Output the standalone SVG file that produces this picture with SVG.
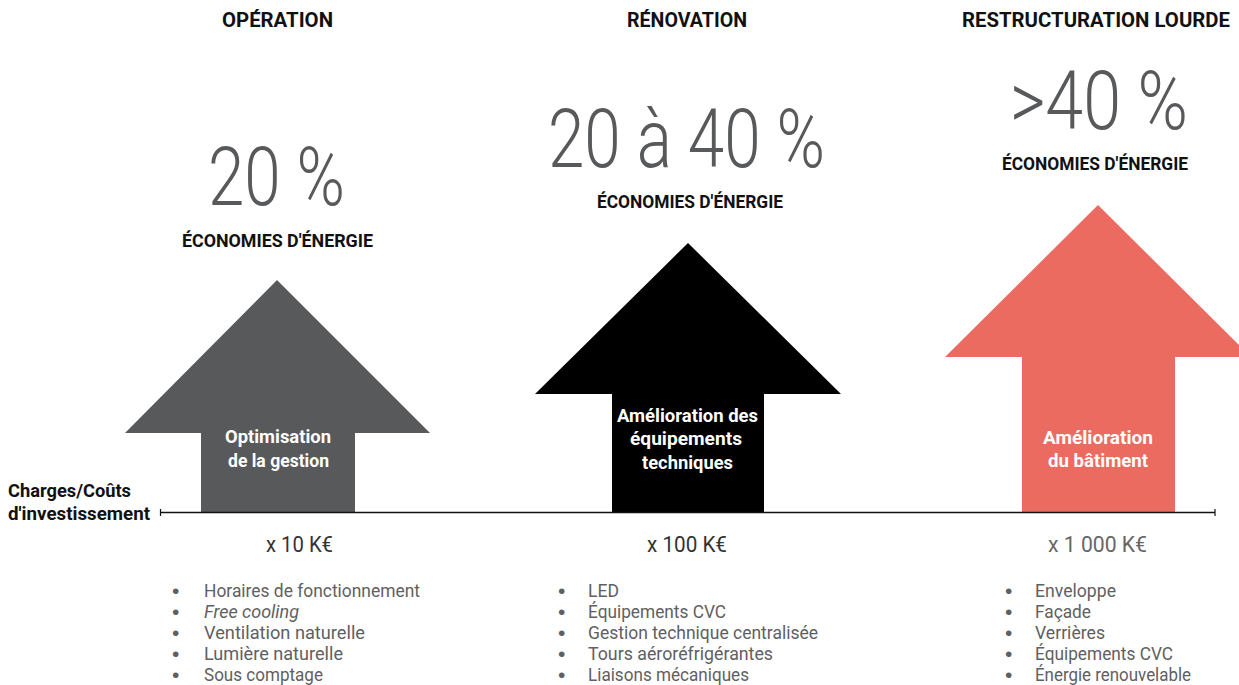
<svg xmlns="http://www.w3.org/2000/svg" width="1239" height="685" viewBox="0 0 1239 685">
<style>
text{font-family:Roboto,"Liberation Sans",sans-serif}
.title{font-size:20px;font-weight:700;fill:#111}
.big{font-size:81px;font-weight:300;fill:#58595b}
.eco{font-size:19px;font-weight:700;fill:#111}
.lbl{font-size:17.5px;font-weight:700;fill:#fff;text-anchor:start}
.axis{font-size:17.5px;font-weight:700;fill:#111}
.cost{font-size:22px;fill:#333}
.item{font-size:17.5px;fill:#5f6062}
.bul{font-size:21px;fill:#5f6062;font-family:"Liberation Sans",sans-serif}
</style>
<g id="col-operation">
<text class="title" x="222" y="27" textLength="111" lengthAdjust="spacingAndGlyphs">OPÉRATION</text>
<text class="big" x="208" y="205" textLength="137" lengthAdjust="spacingAndGlyphs">20 %</text>
<text class="eco" x="182" y="247" textLength="191" lengthAdjust="spacingAndGlyphs">ÉCONOMIES D'ÉNERGIE</text>
</g>
<g id="col-renovation">
<text class="title" x="627" y="27" textLength="120" lengthAdjust="spacingAndGlyphs">RÉNOVATION</text>
<text class="big" x="548" y="167" textLength="277" lengthAdjust="spacingAndGlyphs">20 à 40 %</text>
<text class="eco" x="597" y="208" textLength="186" lengthAdjust="spacingAndGlyphs">ÉCONOMIES D'ÉNERGIE</text>
</g>
<g id="col-restructuration">
<text class="title" x="962" y="27" textLength="268" lengthAdjust="spacingAndGlyphs">RESTRUCTURATION LOURDE</text>
<text class="big" x="1010" y="129" textLength="178" lengthAdjust="spacingAndGlyphs">&gt;40 %</text>
<text class="eco" x="1002" y="170" textLength="186" lengthAdjust="spacingAndGlyphs">ÉCONOMIES D'ÉNERGIE</text>
</g>
<g id="arrow-operation">
<polygon points="277,280 430,433 355,433 355,512 201,512 201,433 125,433" fill="#58595b"/>
<text class="lbl" x="225" y="443" textLength="106" lengthAdjust="spacingAndGlyphs">Optimisation</text>
<text class="lbl" x="228" y="467" textLength="101" lengthAdjust="spacingAndGlyphs">de la gestion</text>
</g>
<g id="arrow-renovation">
<polygon points="688,243 841,394 764,394 764,512 612,512 612,394 535,394" fill="#000"/>
<text class="lbl" x="617" y="422" textLength="141" lengthAdjust="spacingAndGlyphs">Amélioration des</text>
<text class="lbl" x="630" y="445" textLength="112" lengthAdjust="spacingAndGlyphs">équipements</text>
<text class="lbl" x="642" y="469" textLength="91" lengthAdjust="spacingAndGlyphs">techniques</text>
</g>
<g id="arrow-restructuration">
<polygon points="1098,205 1251,357 1175,357 1175,512 1022,512 1022,357 945,357" fill="#ec6b61"/>
<text class="lbl" x="1043" y="444" textLength="110" lengthAdjust="spacingAndGlyphs">Amélioration</text>
<text class="lbl" x="1048" y="467" textLength="100" lengthAdjust="spacingAndGlyphs">du bâtiment</text>
</g>
<g id="connectors">
<line x1="160" y1="512.5" x2="1215" y2="512.5" stroke="#111" stroke-width="1.5"/>
<line x1="160.5" y1="509" x2="160.5" y2="516" stroke="#111" stroke-width="1.2"/>
<line x1="1215" y1="509" x2="1215" y2="516" stroke="#111" stroke-width="1.2"/>
</g>
<g id="axis-label">
<text class="axis" x="8" y="497" textLength="123" lengthAdjust="spacingAndGlyphs">Charges/Coûts</text>
<text class="axis" x="8" y="520" textLength="142" lengthAdjust="spacingAndGlyphs">d'investissement</text>
</g>
<g id="costs">
<text class="cost" x="266" y="552" textLength="67" lengthAdjust="spacingAndGlyphs">x 10 K€</text>
<text class="cost" x="647" y="552" textLength="80" lengthAdjust="spacingAndGlyphs">x 100 K€</text>
<text class="cost" x="1048" y="552" textLength="99" lengthAdjust="spacingAndGlyphs" style="fill:#666">x 1 000 K€</text>
</g>
<g id="list-operation">
<text class="bul" x="172" y="598">•</text><text class="item" x="204" y="597" textLength="216" lengthAdjust="spacingAndGlyphs">Horaires de fonctionnement</text>
<text class="bul" x="172" y="619">•</text><text class="item" x="204" y="618" textLength="95" lengthAdjust="spacingAndGlyphs" font-style="italic">Free cooling</text>
<text class="bul" x="172" y="640">•</text><text class="item" x="204" y="639" textLength="161" lengthAdjust="spacingAndGlyphs">Ventilation naturelle</text>
<text class="bul" x="172" y="661">•</text><text class="item" x="204" y="660" textLength="139" lengthAdjust="spacingAndGlyphs">Lumière naturelle</text>
<text class="bul" x="172" y="682">•</text><text class="item" x="204" y="681" textLength="119" lengthAdjust="spacingAndGlyphs">Sous comptage</text>
</g>
<g id="list-renovation">
<text class="bul" x="558" y="598">•</text><text class="item" x="588" y="597" textLength="31" lengthAdjust="spacingAndGlyphs">LED</text>
<text class="bul" x="558" y="619">•</text><text class="item" x="588" y="618" textLength="138" lengthAdjust="spacingAndGlyphs">Équipements CVC</text>
<text class="bul" x="558" y="640">•</text><text class="item" x="588" y="639" textLength="230" lengthAdjust="spacingAndGlyphs">Gestion technique centralisée</text>
<text class="bul" x="558" y="661">•</text><text class="item" x="588" y="660" textLength="185" lengthAdjust="spacingAndGlyphs">Tours aéroréfrigérantes</text>
<text class="bul" x="558" y="682">•</text><text class="item" x="588" y="681" textLength="161" lengthAdjust="spacingAndGlyphs">Liaisons mécaniques</text>
</g>
<g id="list-restructuration">
<text class="bul" x="1005" y="598">•</text><text class="item" x="1035" y="597" textLength="81" lengthAdjust="spacingAndGlyphs">Enveloppe</text>
<text class="bul" x="1005" y="619">•</text><text class="item" x="1035" y="618" textLength="56" lengthAdjust="spacingAndGlyphs">Façade</text>
<text class="bul" x="1005" y="640">•</text><text class="item" x="1035" y="639" textLength="70" lengthAdjust="spacingAndGlyphs">Verrières</text>
<text class="bul" x="1005" y="661">•</text><text class="item" x="1035" y="660" textLength="138" lengthAdjust="spacingAndGlyphs">Équipements CVC</text>
<text class="bul" x="1005" y="682">•</text><text class="item" x="1035" y="681" textLength="156" lengthAdjust="spacingAndGlyphs">Énergie renouvelable</text>
</g>
</svg>
